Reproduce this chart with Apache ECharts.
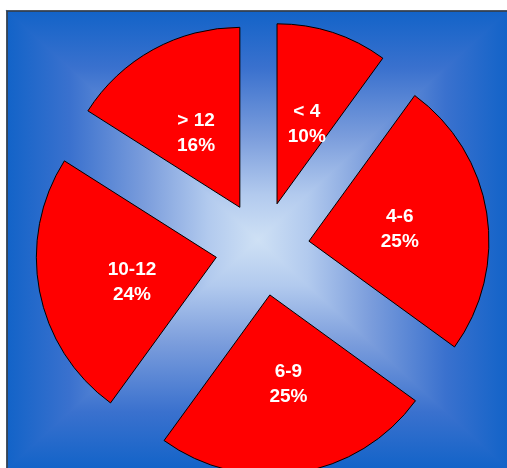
<!DOCTYPE html>
<html>
<head>
<meta charset="utf-8">
<style>
html,body{margin:0;padding:0;background:#fff;}
#chart{width:507px;height:468px;}
</style>
<script src="https://cdn.jsdelivr.net/npm/echarts@6/dist/echarts.min.js"></script>
</head>
<body>
<div id="chart"></div>
<script>
const categories = ['< 4', '4-6', '6-9', '10-12', '> 12'];
const shares = [10, 25, 25, 24, 16];

const chart = echarts.init(document.getElementById('chart'), null, {renderer: 'canvas'});

// background rectangle with rectangular (path-style) gradient
const L = 7, T = 11, R = 508, B = 469;
const CX = 258, CY = 240;
const stops = [
  {offset: 0, color: '#1263c8'},
  {offset: 0.25, color: '#3a71ce'},
  {offset: 0.55, color: '#7b9ddc'},
  {offset: 0.8, color: '#b2caee'},
  {offset: 1, color: '#cfe1f5'}
];
function grad(x, y, x2, y2) {
  return {type: 'linear', x: x, y: y, x2: x2, y2: y2, colorStops: stops};
}
function tri(points, g) {
  return {type: 'polygon', shape: {points: points}, style: {fill: g, stroke: g, lineWidth: 1.2}};
}
const bg = [
  {type: 'rect', shape: {x: L, y: T, width: R - L, height: B - T}, style: {fill: '#5a86d4'}},
  tri([[L, T], [R, T], [CX, CY]], grad(0, 0, 0, 1)),
  tri([[L, B], [R, B], [CX, CY]], grad(0, 1, 0, 0)),
  tri([[L, T], [L, B], [CX, CY]], grad(0, 0, 1, 0)),
  tri([[R, T], [R, B], [CX, CY]], grad(1, 0, 0, 0)),
  {type: 'rect', shape: {x: L, y: T, width: R - L + 5, height: B - T + 5}, style: {fill: null, stroke: '#3a3a3a', lineWidth: 1.5}}
].map(e => Object.assign(e, {silent: true, z: 0}));

// small per-label nudges to match the reference placement
const labelPadding = [[0, 0, 0, 2], [0, 2, 0, 0], [0, 0, 0, 8], [0, 0, 0, 14], [0, 0, 0, 2]];
const labelShiftY = [9, 3, -3, 8, 7];

const rich = {n: {color: '#ffffff', fontFamily: 'Liberation Sans, Arial, sans-serif', fontWeight: 'bold', fontSize: 19, lineHeight: 25}};
labelShiftY.forEach((dy, i) => {
  rich['s' + i] = {fontSize: 1, lineHeight: Math.abs(dy) * 2, color: 'transparent'};
});

const data = categories.map((c, i) => ({
  name: c,
  value: shares[i],
  selected: true,
  label: {padding: labelPadding[i]}
}));

chart.setOption({
  animation: false,
  graphic: {elements: bg},
  series: [{
    type: 'pie',
    z: 2,
    center: [262.5, 248.5],
    radius: [0, 180],
    startAngle: 90,
    clockwise: true,
    selectedMode: 'multiple',
    selectedOffset: 47,
    avoidLabelOverlap: false,
    itemStyle: {color: '#ff0000', borderColor: '#000', borderWidth: 1},
    select: {itemStyle: {color: '#ff0000', borderColor: '#000', borderWidth: 1}},
    emphasis: {scale: false, itemStyle: {color: '#ff0000'}},
    label: {
      show: true,
      position: 'inside',
      formatter: p => {
        const i = p.dataIndex;
        const body = '{n|' + p.name + '}\n{n|' + p.value + '%}';
        const sp = '{s' + i + '| }';
        return labelShiftY[i] >= 0 ? sp + '\n' + body : body + '\n' + sp;
      },
      rich: rich,
      color: '#ffffff',
      fontFamily: 'Liberation Sans, Arial, sans-serif',
      fontWeight: 'bold',
      fontSize: 19,
      lineHeight: 25,
      align: 'center',
      textBorderWidth: 0
    },
    labelLine: {show: false},
    data: data
  }]
});
</script>
</body>
</html>
